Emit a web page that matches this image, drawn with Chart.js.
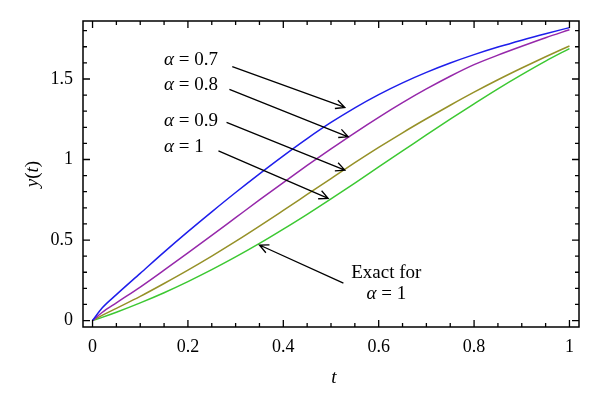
<!DOCTYPE html>
<html><head><meta charset="utf-8">
<script src="https://cdn.jsdelivr.net/npm/chart.js@4.4.0/dist/chart.umd.min.js"></script>
<style>html,body{margin:0;padding:0;background:#fff}#wrap{width:600px;height:410px}</style>
</head><body><div id="wrap"><canvas id="c" width="600" height="410"></canvas></div>
<script>
// ---- data ----
const tValues  = [0, 0.02, 0.05, 0.1, 0.15, 0.2, 0.25, 0.3, 0.35, 0.4, 0.45, 0.5, 0.55, 0.6, 0.65, 0.7, 0.75, 0.8, 0.85, 0.9, 0.95, 1];
const yAlpha07 = [0, 0.078, 0.161, 0.293, 0.425, 0.552, 0.675, 0.795, 0.911, 1.023, 1.130, 1.230, 1.321, 1.403, 1.476, 1.541, 1.599, 1.651, 1.698, 1.741, 1.781, 1.819];
const yAlpha08 = [0, 0.050, 0.110, 0.208, 0.313, 0.420, 0.529, 0.639, 0.749, 0.857, 0.963, 1.066, 1.166, 1.262, 1.353, 1.438, 1.517, 1.589, 1.648, 1.703, 1.756, 1.806];
const yAlpha09 = [0, 0.032, 0.076, 0.150, 0.230, 0.313, 0.400, 0.491, 0.586, 0.684, 0.783, 0.882, 0.980, 1.075, 1.166, 1.253, 1.337, 1.418, 1.495, 1.568, 1.638, 1.705];
const yAlpha1  = [0, 0.020, 0.052, 0.110, 0.173, 0.242, 0.316, 0.395, 0.479, 0.568, 0.660, 0.756, 0.854, 0.954, 1.053, 1.153, 1.251, 1.346, 1.439, 1.527, 1.611, 1.689];
const seriesLabels = ['α = 0.7', 'α = 0.8', 'α = 0.9', 'α = 1'];
const seriesColors = ['rgb(30,30,235)', 'rgb(150,40,170)', 'rgb(150,145,40)', 'rgb(60,200,50)'];
const xTickValues = [0, 0.2, 0.4, 0.6, 0.8, 1];
const yTickValues = [0, 0.5, 1, 1.5];
const xTickLabels = ['0', '0.2', '0.4', '0.6', '0.8', '1'];
const yTickLabels = ['0', '0.5', '1', '1.5'];
// annotations: label at (t, y) and arrow from (t0,y0) to tip (t1,y1), in data units
const annotAlpha = ['0.7', '0.8', '0.9', '1'];
const annotLabelT = [0.150, 0.150, 0.150, 0.150];
const annotLabelY = [1.616, 1.461, 1.238, 1.077];
const arrowStartT = [0.293, 0.287, 0.281, 0.264, 0.526];
const arrowStartY = [1.577, 1.435, 1.230, 1.054, 0.232];
const arrowTipT   = [0.529, 0.536, 0.529, 0.494, 0.350];
const arrowTipY   = [1.323, 1.141, 0.934, 0.759, 0.469];
const exactLabelT = 0.616, exactLabelY1 = 0.298, exactLabelY2 = 0.164;

const SERIF = '"Liberation Serif", "DejaVu Serif", serif';
const seriesY = [yAlpha07, yAlpha08, yAlpha09, yAlpha1];

const datasets = seriesY.map((arr, i) => ({
  label: seriesLabels[i],
  data: tValues.map((t, k) => ({x: t, y: arr[k]})),
  borderColor: seriesColors[i],
  borderWidth: 1.5,
  pointRadius: 0,
  fill: false,
  cubicInterpolationMode: 'monotone'
}));

function drawRich(ctx, parts, x, y, align) {
  const size = 19;
  let total = 0;
  const w = parts.map(p => { ctx.font = (p[1] ? 'italic ' : '') + size + 'px ' + SERIF; const m = ctx.measureText(p[0]).width; total += m; return m; });
  let cx = align === 'center' ? x - total / 2 : x;
  ctx.textAlign = 'left';
  ctx.textBaseline = 'middle';
  parts.forEach((p, i) => { ctx.font = (p[1] ? 'italic ' : '') + size + 'px ' + SERIF; ctx.fillText(p[0], cx, y); cx += w[i]; });
}

const framePlugin = {
  id: 'frame',
  afterDraw(chart) {
    const ctx = chart.ctx, xs = chart.scales.x, ys = chart.scales.y, a = chart.chartArea;
    ctx.save();
    ctx.strokeStyle = '#000';
    ctx.fillStyle = '#000';
    ctx.lineWidth = 1.5;
    ctx.strokeRect(a.left, a.top, a.right - a.left, a.bottom - a.top);
    ctx.lineWidth = 1.3;
    ctx.beginPath();
    for (let k = 0; k <= 20; k++) {
      const v = k * 0.05, px = xs.getPixelForValue(v), len = (k % 4 === 0) ? 7 : 4;
      ctx.moveTo(px, a.bottom); ctx.lineTo(px, a.bottom - len);
      ctx.moveTo(px, a.top); ctx.lineTo(px, a.top + len);
    }
    for (let k = 0; k <= 18; k++) {
      const v = k * 0.1, py = ys.getPixelForValue(v), len = (k % 5 === 0) ? 7 : 4;
      ctx.moveTo(a.left, py); ctx.lineTo(a.left + len, py);
      ctx.moveTo(a.right, py); ctx.lineTo(a.right - len, py);
    }
    ctx.stroke();

    ctx.lineWidth = 1.3;
    for (let i = 0; i < arrowStartT.length; i++) {
      const x0 = xs.getPixelForValue(arrowStartT[i]), y0 = ys.getPixelForValue(arrowStartY[i]);
      const x1 = xs.getPixelForValue(arrowTipT[i]), y1 = ys.getPixelForValue(arrowTipY[i]);
      const ang = Math.atan2(y1 - y0, x1 - x0), hl = 10, ha = 0.45;
      ctx.beginPath();
      ctx.moveTo(x0, y0); ctx.lineTo(x1, y1);
      ctx.moveTo(x1 - hl * Math.cos(ang - ha), y1 - hl * Math.sin(ang - ha));
      ctx.lineTo(x1, y1);
      ctx.lineTo(x1 - hl * Math.cos(ang + ha), y1 - hl * Math.sin(ang + ha));
      ctx.stroke();
    }
    for (let i = 0; i < annotAlpha.length; i++) {
      drawRich(ctx, [['α', true], [' = ' + annotAlpha[i], false]], xs.getPixelForValue(annotLabelT[i]), ys.getPixelForValue(annotLabelY[i]), 'left');
    }
    const ex = xs.getPixelForValue(exactLabelT);
    drawRich(ctx, [['Exact for', false]], ex, ys.getPixelForValue(exactLabelY1), 'center');
    drawRich(ctx, [['α', true], [' = 1', false]], ex, ys.getPixelForValue(exactLabelY2), 'center');

    drawRich(ctx, [['t', true]], (a.left + a.right) / 2 + 3, 378, 'center');
    ctx.translate(33, (a.top + a.bottom) / 2);
    ctx.rotate(-Math.PI / 2);
    drawRich(ctx, [['y', true], ['(', false], ['t', true], [')', false]], 0, 0, 'center');
    ctx.restore();
  }
};

new Chart(document.getElementById('c'), {
  type: 'line',
  data: { datasets },
  options: {
    responsive: false,
    animation: false,
    devicePixelRatio: 1,
    layout: { padding: { top: 21, right: 21, left: 0, bottom: 0 } },
    plugins: { legend: { display: false }, tooltip: { enabled: false } },
    scales: {
      x: {
        type: 'linear', min: -0.02, max: 1.02,
        afterBuildTicks: s => { s.ticks = xTickValues.map(v => ({ value: v })); },
        afterFit: s => { s.height = 83; },
        grid: { display: false, drawTicks: false },
        border: { display: false },
        ticks: { color: '#000', padding: 9, maxRotation: 0, autoSkip: false,
          font: { family: SERIF, size: 18 },
          callback: v => xTickLabels[xTickValues.indexOf(v)] ?? String(v) }
      },
      y: {
        type: 'linear', min: -0.04, max: 1.86,
        afterBuildTicks: s => { s.ticks = yTickValues.map(v => ({ value: v })); },
        afterFit: s => { s.width = 83; },
        grid: { display: false, drawTicks: false },
        border: { display: false },
        ticks: { color: '#000', padding: 10, autoSkip: false,
          font: { family: SERIF, size: 18 },
          callback: v => yTickLabels[yTickValues.indexOf(v)] ?? String(v) }
      }
    }
  },
  plugins: [framePlugin]
});
</script>
</body></html>
